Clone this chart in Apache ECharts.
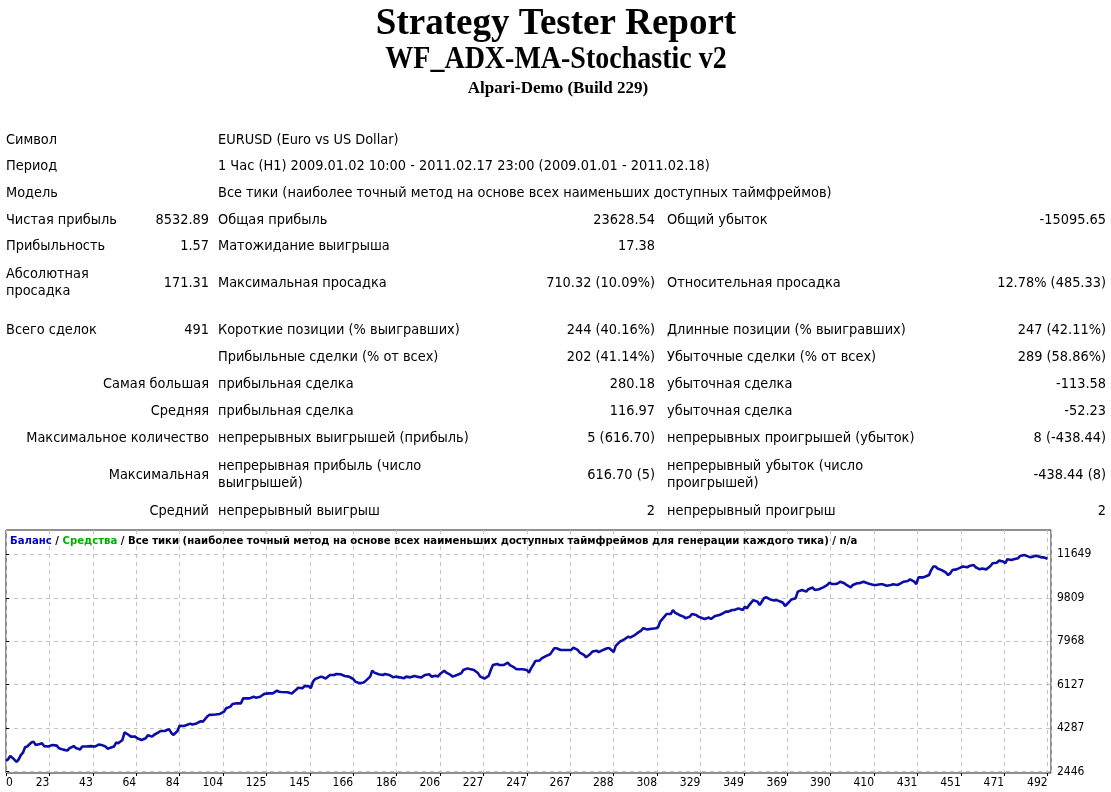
<!DOCTYPE html>
<html lang="ru">
<head>
    <meta charset="UTF-8">
    <title>Strategy Tester Report</title>
    <script src="https://cdn.jsdelivr.net/npm/echarts/dist/echarts.min.js"></script>
    <style>
        html, body { margin: 0; padding: 0; background: #fff; }
        #main { width: 1111px; height: 792px; }
    </style>
</head>
<body>
    <div id="main"></div>

    <script>
        // заголовки отчёта
        var reportTitle = 'Strategy Tester Report';
        var expertName = 'WF_ADX-MA-Stochastic v2';
        var serverName = 'Alpari-Demo (Build 229)';

        // таблица: [подпись, значение, подпись, значение, подпись, значение]
        var reportRows = [
            ['Символ', '', 'EURUSD (Euro vs US Dollar)', '', '', ''],
            ['Период', '', '1 Час (H1) 2009.01.02 10:00 - 2011.02.17 23:00 (2009.01.01 - 2011.02.18)', '', '', ''],
            ['Модель', '', 'Все тики (наиболее точный метод на основе всех наименьших доступных таймфреймов)', '', '', ''],
            ['Чистая прибыль', '8532.89', 'Общая прибыль', '23628.54', 'Общий убыток', '-15095.65'],
            ['Прибыльность', '1.57', 'Матожидание выигрыша', '17.38', '', ''],
            ['Абсолютная\nпросадка', '171.31', 'Максимальная просадка', '710.32 (10.09%)', 'Относительная просадка', '12.78% (485.33)'],
            ['Всего сделок', '491', 'Короткие позиции (% выигравших)', '244 (40.16%)', 'Длинные позиции (% выигравших)', '247 (42.11%)'],
            ['', '', 'Прибыльные сделки (% от всех)', '202 (41.14%)', 'Убыточные сделки (% от всех)', '289 (58.86%)'],
            ['Самая большая', '', 'прибыльная сделка', '280.18', 'убыточная сделка', '-113.58'],
            ['Средняя', '', 'прибыльная сделка', '116.97', 'убыточная сделка', '-52.23'],
            ['Максимальное количество', '', 'непрерывных выигрышей (прибыль)', '5 (616.70)', 'непрерывных проигрышей (убыток)', '8 (-438.44)'],
            ['Максимальная', '', 'непрерывная прибыль (число\nвыигрышей)', '616.70 (5)', 'непрерывный убыток (число\nпроигрышей)', '-438.44 (8)'],
            ['Средний', '', 'непрерывный выигрыш', '2', 'непрерывный проигрыш', '2']
        ];

        // подпись графика
        var balanceName = 'Баланс';
        var equityName = 'Средства';
        var chartCaption = 'Все тики (наиболее точный метод на основе всех наименьших доступных таймфреймов для генерации каждого тика) / n/a';

        // подписи осей
        var xTickLabels = [0, 23, 43, 64, 84, 104, 125, 145, 166, 186, 206, 227, 247, 267, 288, 308, 329, 349, 369, 390, 410, 431, 451, 471, 492];
        var yTickLabels = [2446, 4287, 6127, 7968, 9809, 11649];

        // номер сделки и баланс после неё
        var trades = [
            0, 1, 2, 3, 5, 6, 7, 8, 9, 10, 12, 13, 14, 16, 17, 18, 20, 22, 24, 25, 27, 29, 30, 32, 33, 35, 36, 38, 40, 42,
            44, 45, 47, 48, 51, 52, 53, 55, 56, 58, 59, 61, 62, 64, 66, 67, 69, 70, 72, 73, 75, 77, 78, 79, 81, 82, 84, 85, 87, 88,
            90, 92, 93, 95, 96, 99, 101, 103, 104, 106, 107, 109, 111, 112, 114, 115, 117, 118, 120, 122, 124, 126, 128, 129,
            130, 133, 135, 137, 138, 140, 141, 143, 144, 145, 146, 148, 149, 151, 153, 155, 156, 158, 160, 162, 164, 165, 167, 169,
            170, 172, 173, 174, 176, 178, 179, 181, 183, 184, 186, 188, 189, 191, 193, 194, 196, 198, 200, 201, 203, 204, 205, 207,
            208, 210, 211, 213, 215, 216, 218, 219, 221, 223, 224, 226, 228, 229, 230, 232, 233, 235, 237, 238, 240, 241, 244, 246,
            247, 248, 249, 250, 252, 253, 255, 257,
            259, 260, 262, 264, 267, 268, 270, 271, 273, 274, 276, 277, 279, 280, 282, 284, 285, 287, 288, 290, 292, 294, 295, 297,
            298, 300, 301, 303, 305, 307, 308, 309, 311, 312, 314, 315, 316, 318, 320, 321, 323, 324, 326, 327, 329, 330, 332, 333,
            335, 337, 338, 340, 341, 343, 344, 346, 348, 349, 350, 351, 353, 355, 356, 358, 359, 361, 363, 364, 366, 367, 368, 370,
            371, 373, 374, 376, 378, 379, 381, 382, 384,
            386, 388, 389, 390, 392, 393, 394, 396, 397, 399, 400, 402, 403, 405, 407, 408, 410, 411, 413, 414, 416, 418, 419, 421,
            422, 424, 426, 427, 429, 430, 431, 433, 434, 436, 437, 438, 439, 440, 442, 444, 445, 446, 447, 449, 450, 452, 454, 455,
            457, 458, 460, 461, 463, 465, 466, 468, 469, 471, 472, 473, 475, 476, 478, 479, 481, 483, 484, 486, 487, 489, 490, 492
        ];
        var balance = [
            2910, 2970, 3110, 3040, 2860, 2970, 3150, 3250, 3480, 3510, 3680, 3720, 3580, 3620, 3650, 3530, 3510, 3580, 3550, 3440,
            3380, 3340, 3440, 3530, 3450, 3390, 3510, 3510, 3530, 3510,
            3600, 3580, 3510, 3420, 3510, 3680, 3650, 3790, 4110, 4000, 3930, 3930, 3860, 3790, 3860, 3990, 3930, 4010, 4110, 4170,
            4170, 4250, 4100, 4000, 4170, 4390, 4380, 4410, 4480, 4440,
            4490, 4580, 4560, 4780, 4850, 4870, 4890, 4990, 5130, 5200, 5310, 5340, 5340, 5550, 5550, 5550, 5620, 5580, 5620, 5740,
            5760, 5760, 5880, 5830,
            5820, 5810, 5760, 5910, 6000, 5980, 6070, 6070, 5980, 6260, 6370, 6440, 6470, 6390, 6540, 6540, 6580, 6570, 6500, 6470,
            6370, 6260, 6190, 6220,
            6300, 6470, 6720, 6640, 6570, 6540, 6580, 6540, 6440, 6470, 6440, 6400, 6470, 6440, 6500, 6470, 6430, 6540, 6570, 6470,
            6510, 6470, 6580, 6720,
            6640, 6540, 6470, 6540, 6610, 6750, 6820, 6790, 6750, 6610, 6470, 6390, 6500, 6750, 6960, 7010, 6960, 6960, 7060, 6960,
            6860, 6790, 6780, 6750,
            6640, 6820, 6960, 7130, 7150, 7240, 7340, 7420,
            7670, 7670, 7600, 7600, 7600, 7700, 7600, 7490, 7390, 7290, 7430, 7530, 7570, 7510, 7600, 7670, 7670, 7510, 7770, 7950,
            8050, 8160, 8130, 8230,
            8300, 8420, 8520, 8470, 8500, 8520, 8560, 8800, 9010, 9120, 9120, 9290, 9180, 9080, 9010, 8940, 9010, 9120, 9080, 9010,
            8940, 8910, 8970, 8910,
            9040, 9080, 9120, 9220, 9220, 9290, 9290, 9360, 9290, 9430, 9360, 9500, 9710, 9640, 9500, 9790, 9830, 9740, 9690, 9710,
            9640, 9600, 9460, 9640,
            9740, 9790, 10070, 10140, 10070, 10170, 10240, 10140, 10170,
            10250, 10350, 10450, 10390, 10390, 10420, 10490, 10420, 10350, 10250, 10350, 10420, 10420, 10490, 10420, 10390, 10350,
            10350, 10380, 10380, 10320, 10350, 10380, 10350,
            10390, 10490, 10520, 10590, 10490, 10390, 10670, 10670, 10700, 10770, 10980, 11130, 11130, 11050, 10980, 10870, 10770,
            10840, 10980, 11010, 11050, 11130, 11100, 11150,
            11200, 11100, 11010, 11050, 11010, 11150, 11270, 11290, 11380, 11340, 11270, 11440, 11410, 11440, 11480, 11580, 11620,
            11550, 11520, 11580, 11580, 11520, 11520, 11460
        ];

        var myChart = echarts.init(document.getElementById('main'));

        var tableFont = '14.4px "DejaVu Sans Condensed"';
        var rowY = [140, 166, 193, 220, 246, 283, 330, 357, 384, 411, 438, 475, 511];
        // x и выравнивание колонок
        var colX = [6, 209, 218, 655, 667, 1106];
        var colAlign = ['left', 'right', 'left', 'right', 'left', 'right'];

        var graphics = [
            { type: 'text', x: 556, y: 24, style: { text: reportTitle, font: 'bold 37px "Liberation Serif"', fill: '#000', textAlign: 'center', textVerticalAlign: 'middle' } },
            { type: 'text', x: 556, y: 60, scaleY: 1.1, originX: 0, originY: 0, style: { text: expertName, font: 'bold 28px "Liberation Serif"', fill: '#000', textAlign: 'center', textVerticalAlign: 'middle' } },
            { type: 'text', x: 558, y: 89, style: { text: serverName, font: 'bold 17px "Liberation Serif"', fill: '#000', textAlign: 'center', textVerticalAlign: 'middle' } }
        ];

        reportRows.forEach(function (row, r) {
            row.forEach(function (cell, c) {
                if (!cell) return;
                var align = colAlign[c];
                var x = colX[c];
                // подписи нижнего блока прижаты вправо
                if (c === 0 && r >= 8) { align = 'right'; x = colX[1]; }
                graphics.push({
                    type: 'text', x: x, y: rowY[r],
                    style: { text: cell, font: tableFont, fill: '#000', textAlign: align, textVerticalAlign: 'middle', lineHeight: 17 }
                });
            });
        });

        var option = {
            backgroundColor: '#fff',
            animation: false,
            title: {
                text: '{b|' + balanceName + '} / {g|' + equityName + '} / ' + chartCaption,
                left: 10,
                top: 536,
                padding: 0,
                textStyle: {
                    fontFamily: 'DejaVu Sans Condensed',
                    fontSize: 11.25,
                    fontWeight: 'bold',
                    color: '#000',
                    rich: {
                        b: { color: '#0000c8', fontFamily: 'DejaVu Sans Condensed', fontSize: 11.25, fontWeight: 'bold' },
                        g: { color: '#00b000', fontFamily: 'DejaVu Sans Condensed', fontSize: 11.25, fontWeight: 'bold' }
                    }
                }
            },
            grid: {
                left: 6,
                top: 530,
                width: 1045,
                height: 243,
                show: true,
                borderColor: '#202020',
                borderWidth: 1
            },
            xAxis: {
                type: 'value',
                min: 0,
                max: 493.6,
                interval: 20.5,
                axisLine: { show: false },
                axisTick: { show: true, length: 3, lineStyle: { color: '#000' } },
                axisLabel: {
                    color: '#000',
                    fontFamily: 'DejaVu Sans Condensed',
                    fontSize: 12,
                    margin: 4,
                    align: 'right',
                    alignMinLabel: 'left',
                    showMaxLabel: false,
                    formatter: function (v) {
                        var k = Math.round(v / 20.5);
                        return xTickLabels[k] !== undefined ? String(xTickLabels[k]) : '';
                    }
                },
                splitLine: { show: true, lineStyle: { color: '#c4c4c4', type: [4, 4] } }
            },
            yAxis: {
                type: 'value',
                position: 'right',
                min: 2391,
                max: 12677,
                axisLine: { show: false },
                axisTick: { show: true, length: 3, customValues: yTickLabels, lineStyle: { color: '#000' } },
                axisLabel: {
                    customValues: yTickLabels,
                    color: '#000',
                    fontFamily: 'DejaVu Sans Condensed',
                    fontSize: 12,
                    margin: 6,
                    align: 'left',
                    formatter: function (v) { return String(Math.round(v)); }
                },
                splitLine: { show: true, lineStyle: { color: '#c4c4c4', type: [4, 4] } }
            },
            series: [
                {
                    name: balanceName,
                    type: 'line',
                    data: trades.map(function (t, i) { return [t, balance[i]]; }),
                    showSymbol: false,
                    lineStyle: { color: '#0c0ca6', width: 2.6 },
                    z: 3
                }
            ],
            graphic: graphics
        };

        myChart.setOption(option);
    </script>
</body>
</html>
